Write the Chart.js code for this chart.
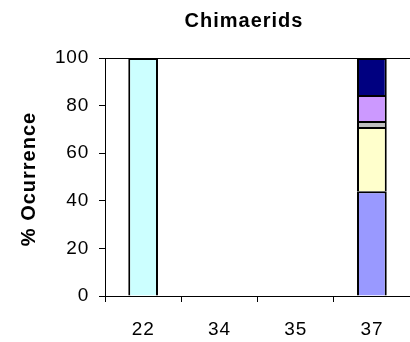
<!DOCTYPE html>
<html>
<head>
<meta charset="utf-8">
<script src="https://cdn.jsdelivr.net/npm/chart.js@4.4.0/dist/chart.umd.min.js"></script>
<style>
  html, body { margin:0; padding:0; background:#fff; overflow:hidden; }
  #chart { display:block; }
</style>
</head>
<body>
<canvas id="chart" width="410" height="342"></canvas>
<script>
// station labels along the x axis
const stations = ["22", "34", "35", "37"];
// % occurrence per group, stacked bottom -> top
const cyanPct   = [100, null, null, null];
const bluePct   = [null, null, null, 44];
const yellowPct = [null, null, null, 27];
const grayPct   = [null, null, null, 2.5];
const lilacPct  = [null, null, null, 11];
const navyPct   = [null, null, null, 15.5];
const yTicks = [0, 20, 40, 60, 80, 100];
const chartTitle = "Chimaerids";
const yTitle = "% Ocurrence";

const FONT = '"Liberation Sans", Arial, sans-serif';

function seg(data, color){
  return { data, backgroundColor: color, borderColor: "#000", borderWidth: 2 };
}

// old excel text runs wide, fake it with a bit of letter spacing
const spacing = {
  id: "spacing",
  beforeUpdate(chart){ chart.ctx.letterSpacing = "0.8px"; },
  beforeDraw(chart){ chart.ctx.letterSpacing = "0.8px"; }
};

const titles = {
  id: "titles",
  afterDraw(chart){
    const ctx = chart.ctx;
    ctx.save();
    ctx.fillStyle = "#000";
    ctx.textAlign = "center";
    ctx.textBaseline = "middle";
    ctx.font = "bold 20px " + FONT;
    ctx.letterSpacing = "1px";
    ctx.fillText(chartTitle, 244, 21);
    ctx.translate(29, 179);
    ctx.rotate(-Math.PI / 2);
    ctx.letterSpacing = "1px";
    ctx.fillText(yTitle, 0, 0);
    ctx.restore();
  }
};

new Chart(document.getElementById("chart"), {
  type: "bar",
  data: {
    labels: stations,
    datasets: [
      seg(cyanPct, "#CCFFFF"),
      seg(bluePct, "#9999FF"),
      seg(yellowPct, "#FFFFCC"),
      seg(grayPct, "#C0C0C0"),
      seg(lilacPct, "#CC99FF"),
      seg(navyPct, "#000080")
    ]
  },
  options: {
    responsive: false,
    animation: false,
    events: [],
    layout: { padding: { top: 58, left: 0, right: 0, bottom: 0 } },
    datasets: { bar: { categoryPercentage: 1, barPercentage: 0.39 } },
    plugins: { legend: { display: false }, tooltip: { enabled: false }, title: { display: false } },
    scales: {
      x: {
        stacked: true,
        grid: { color: "transparent", tickColor: "#000", tickLength: 6, offset: true },
        border: { color: "#000", width: 1 },
        ticks: { color: "#000", padding: 16, font: { family: FONT, size: 19 } },
        afterFit(scale){ scale.height = 46; }
      },
      y: {
        stacked: true,
        min: 0, max: 100,
        grid: {
          color: c => (c.tick && c.tick.value === 100) ? "#000" : "transparent",
          tickColor: "#000", tickLength: 6
        },
        border: { color: "#000", width: 1 },
        ticks: { color: "#000", padding: 10, font: { family: FONT, size: 19 } },
        afterBuildTicks(scale){ scale.ticks = yTicks.map(v => ({ value: v })); },
        afterFit(scale){ scale.width = 105; }
      }
    }
  },
  plugins: [spacing, titles]
});
</script>
</body>
</html>
